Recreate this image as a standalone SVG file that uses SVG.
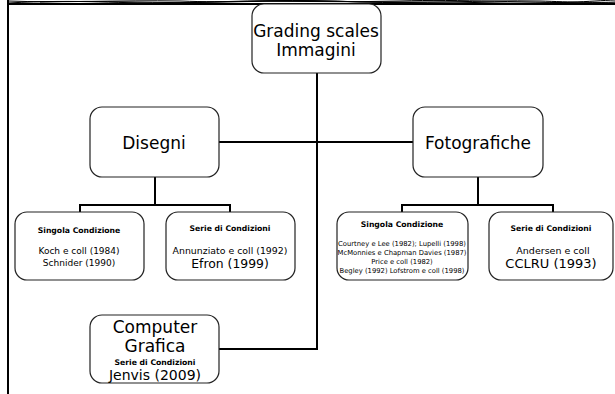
<svg xmlns="http://www.w3.org/2000/svg" width="615" height="394" viewBox="0 0 615 394">
<style>
.box{fill:#fff;stroke:#222;stroke-width:1.2}
.ln{fill:none;stroke:#000;stroke-width:2}
.wave{fill:none;stroke:#000;stroke-width:1}
text{font-family:"DejaVu Sans",Verdana,sans-serif;fill:#000;text-anchor:middle}
.big{font-size:17px}
.b{font-weight:bold;font-size:7.7px}
.s{font-size:9px}
.xs{font-size:6.8px}
</style>
<rect width="615" height="394" fill="#fff"/>
<g id="frame">
<line x1="8" y1="4" x2="615" y2="4" class="ln" stroke-width="1.5"/>
<line x1="8" y1="0" x2="8" y2="394" class="ln"/>
<path class="wave" d="M8,3 C80,-1 120,4 180,3 C240,1 300,-1 360,2 C420,4 480,0 540,1 C570,2 600,3 615,2"/>
<path class="wave" d="M8,1 C60,3 120,0 180,1 C230,3 260,0 320,1 C380,3 440,1 500,3 C560,4 590,1 615,0"/>
<path class="wave" stroke="#666" d="M40,2 C100,0 160,4 220,2 C280,0 340,3 400,1 C460,-1 520,3 615,3"/>
</g>
<g id="connectors">
<path class="ln" d="M317,73 V349 H219"/>
<path class="ln" d="M219,142 H413"/>
<path class="ln" d="M155,177 V205 M80,212 V205 H230 V212"/>
<path class="ln" d="M478,177 V205 M402,212 V205 H553 V212"/>
</g>
<g id="root">
<rect class="box" x="252" y="4" width="129" height="69" rx="12"/>
<text class="big" x="316" y="37">Grading scales</text>
<text class="big" x="316" y="56">Immagini</text>
</g>
<g id="disegni">
<rect class="box" x="90" y="107" width="129" height="70" rx="12"/>
<text class="big" x="154" y="149">Disegni</text>
</g>
<g id="fotografiche">
<rect class="box" x="413" y="107" width="130" height="70" rx="12"/>
<text class="big" x="478" y="149">Fotografiche</text>
</g>
<g id="dis-singola">
<rect class="box" x="15" y="212" width="129" height="68" rx="12"/>
<text class="b" x="79" y="233">Singola Condizione</text>
<text class="s" x="79" y="254">Koch e coll (1984)</text>
<text class="s" x="79" y="266">Schnider (1990)</text>
</g>
<g id="dis-serie">
<rect class="box" x="166" y="212" width="129" height="68" rx="12"/>
<text class="b" x="230" y="231">Serie di Condizioni</text>
<text x="230" y="254" font-size="9.4">Annunziato e coll (1992)</text>
<text x="230" y="268" font-size="12.4">Efron (1999)</text>
</g>
<g id="foto-singola">
<rect class="box" x="337" y="212" width="131" height="68" rx="12"/>
<text class="b" x="402" y="227">Singola Condizione</text>
<text class="xs" x="402" y="246">Courtney e Lee (1982); Lupelli (1998)</text>
<text class="xs" x="402" y="255">McMonnies e Chapman Davies (1987)</text>
<text class="xs" x="402" y="264">Price e coll (1982)</text>
<text class="xs" x="402" y="273">Begley (1992) Lofstrom e coll (1998)</text>
</g>
<g id="foto-serie">
<rect class="box" x="489" y="212" width="124" height="68" rx="12"/>
<text class="b" x="551" y="231">Serie di Condizioni</text>
<text x="553" y="254" font-size="9.5">Andersen e coll</text>
<text x="551" y="268" font-size="13">CCLRU (1993)</text>
</g>
<g id="computer">
<rect class="box" x="90" y="315" width="129" height="68" rx="12"/>
<text class="big" x="155" y="333" font-size="17.5">Computer</text>
<text class="big" x="155" y="352" font-size="17.5">Grafica</text>
<text class="b" x="155" y="365">Serie di Condizioni</text>
<text x="155" y="380" font-size="14">Jenvis (2009)</text>
</g>
</svg>
